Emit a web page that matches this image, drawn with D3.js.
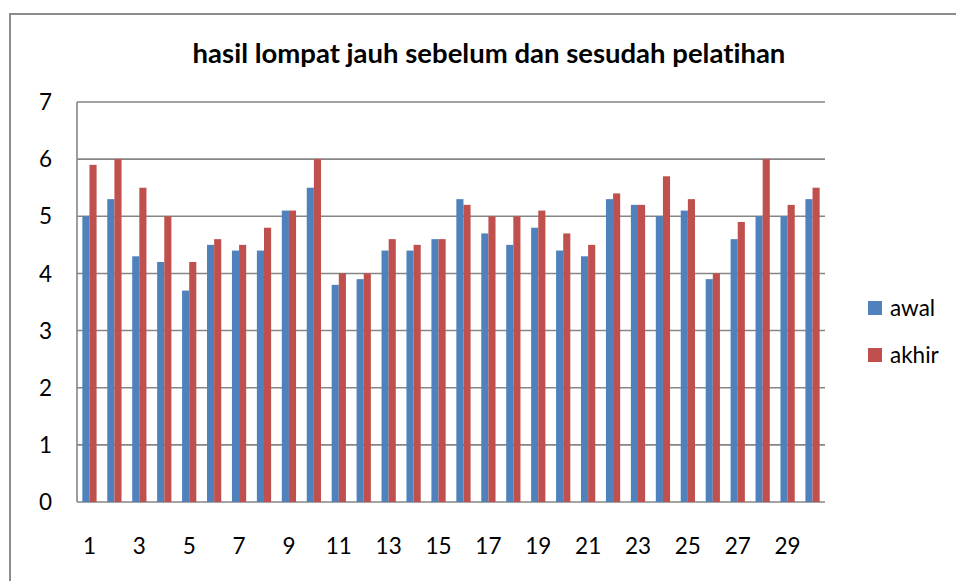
<!DOCTYPE html>
<html>
<head>
<meta charset="utf-8">
<script src="https://cdn.jsdelivr.net/npm/d3@7"></script>
<style>
  html, body { margin: 0; padding: 0; background: #fff; }
  svg { display: block; font-family: Lato, "Open Sans", sans-serif; font-variant-ligatures: none; }
</style>
</head>
<body>
<svg id="chart" width="956" height="581"></svg>
<script>
// data
var categories = d3.range(1, 31).map(String);
var awal  = [5.0, 5.3, 4.3, 4.2, 3.7, 4.5, 4.4, 4.4, 5.1, 5.5,
             3.8, 3.9, 4.4, 4.4, 4.6, 5.3, 4.7, 4.5, 4.8, 4.4,
             4.3, 5.3, 5.2, 5.0, 5.1, 3.9, 4.6, 5.0, 5.0, 5.3];
var akhir = [5.9, 6.0, 5.5, 5.0, 4.2, 4.6, 4.5, 4.8, 5.1, 6.0,
             4.0, 4.0, 4.6, 4.5, 4.6, 5.2, 5.0, 5.0, 5.1, 4.7,
             4.5, 5.4, 5.2, 5.7, 5.3, 4.0, 4.9, 6.0, 5.2, 5.5];
var seriesNames = ['awal', 'akhir'];
var yTicks = [0, 1, 2, 3, 4, 5, 6, 7];
var xTickLabels = categories.filter((c, i) => i % 2 === 0);

var svg = d3.select('#chart'),
    cs = {
        pallette: { awal: '#4F81BD', akhir: '#C0504D', grid: '#868686', frame: '#8c8c8c' },
        plot: { left: 77, right: 825, top: 102, bottom: 502 },
        font: 22.5
    };

// outer chart frame (runs past the bottom/right edge of the picture)
svg.append('rect')
    .attr('x', 10).attr('y', 14)
    .attr('width', 1000).attr('height', 1000)
    .attr('fill', 'none')
    .attr('stroke', cs.pallette.frame)
    .attr('stroke-width', 2);

cs.x = d3.scaleBand().domain(categories).range([cs.plot.left, cs.plot.right]);
cs.y = d3.scaleLinear().domain([0, 7]).range([cs.plot.bottom, cs.plot.top]);
// gap width 150% like the spreadsheet default
cs.inner = d3.scaleBand().domain(seriesNames)
    .range([0, cs.x.bandwidth()]).paddingInner(0).paddingOuter(0.75);

// gridlines
svg.append('g')
    .selectAll('line').data(yTicks).enter()
    .append('line')
    .attr('x1', cs.plot.left).attr('x2', cs.plot.right)
    .attr('y1', d => cs.y(d)).attr('y2', d => cs.y(d))
    .attr('stroke', cs.pallette.grid)
    .attr('stroke-width', 1.6);

// bars
var rows = categories.map((c, i) => ({ cat: c, awal: awal[i], akhir: akhir[i] }));
var groups = svg.append('g').selectAll('g').data(rows).enter()
    .append('g')
    .attr('transform', d => 'translate(' + cs.x(d.cat) + ',0)');

groups.selectAll('rect')
    .data(d => seriesNames.map(k => ({ key: k, value: d[k] })))
    .enter().append('rect')
    .attr('x', d => cs.inner(d.key))
    .attr('width', cs.inner.bandwidth())
    .attr('y', d => cs.y(d.value))
    .attr('height', d => cs.y(0) - cs.y(d.value))
    .attr('fill', d => cs.pallette[d.key]);

// left axis line
svg.append('line')
    .attr('x1', cs.plot.left).attr('x2', cs.plot.left)
    .attr('y1', cs.plot.top).attr('y2', cs.plot.bottom)
    .attr('stroke', cs.pallette.grid).attr('stroke-width', 1.6);

// y labels
svg.append('g').selectAll('text').data(yTicks).enter()
    .append('text')
    .attr('x', 52)
    .attr('y', d => cs.y(d))
    .attr('dy', '0.36em')
    .attr('text-anchor', 'end')
    .attr('font-size', cs.font)
    .attr('fill', '#000')
    .text(d => d);

// x labels (every other category)
svg.append('g').selectAll('text').data(xTickLabels).enter()
    .append('text')
    .attr('x', d => cs.x(d) + cs.x.bandwidth() / 2)
    .attr('y', 554)
    .attr('text-anchor', 'middle')
    .attr('font-size', cs.font)
    .attr('fill', '#000')
    .text(d => d);

// title
svg.append('text')
    .attr('x', 489).attr('y', 63)
    .attr('text-anchor', 'middle')
    .attr('font-size', 27.5)
    .attr('font-weight', 'bold')
    .attr('fill', '#000')
    .text('hasil lompat jauh sebelum dan sesudah pelatihan');

// legend
var legend = svg.append('g').selectAll('g').data(seriesNames).enter()
    .append('g')
    .attr('transform', (d, i) => 'translate(868,' + (301 + i * 47) + ')');
legend.append('rect')
    .attr('width', 14).attr('height', 14)
    .attr('fill', d => cs.pallette[d]);
legend.append('text')
    .attr('x', 22).attr('y', 15)
    .attr('font-size', cs.font)
    .attr('fill', '#000')
    .text(d => d);
</script>
</body>
</html>
